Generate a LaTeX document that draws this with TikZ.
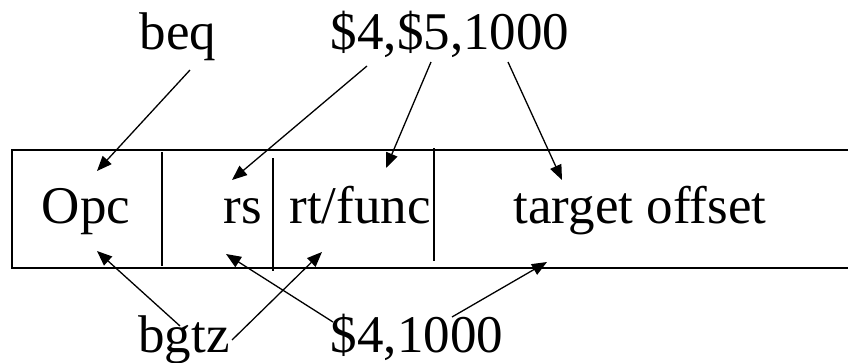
\documentclass[tikz,border=0pt]{standalone}
\usepackage{fontspec}
\setmainfont{Liberation Serif}
\usetikzlibrary{arrows.meta}
\begin{document}
\begin{tikzpicture}[x=1pt,y=-1pt,
  lbl/.style={anchor=base,inner sep=0pt,font=\fontsize{53}{60}\selectfont},
  arr/.style={line width=1.3pt,-{Triangle[length=15pt,width=12pt]}},
  boxline/.style={line width=1.6pt},
  divline/.style={line width=2.2pt}]
\useasboundingbox (0,0) rectangle (848,362);
\clip (0,0) rectangle (848,362);
% box
\draw[boxline] (860,150) -- (12,150) -- (12,268) -- (860,268);
\draw[divline] (162,152) -- (162,266);
\draw[divline] (273,158) -- (273,271);
\draw[divline] (434,148) -- (434,261);
% field labels
\node[lbl] (opc) at (86,223) {Opc};
\node[lbl] (rs) at (243,223) {rs};
\node[lbl] (rt) at (360,223) {rt/func};
\node[lbl] (tgt) at (640,223) {target offset};
% instruction labels
\node[lbl] (beq) at (178,49) {beq};
\node[lbl] (args1) at (450,49) {\$4,\$5,1000};
\node[lbl] (bgtz) at (184,352) {bgtz};
\node[lbl] (args2) at (417,352) {\$4,1000};
% arrow endpoints
\coordinate (beqS) at (190,70);
\coordinate (opcT) at (97,171);
\coordinate (a4S) at (367,66);
\coordinate (rsT) at (232,180);
\coordinate (a5S) at (431,62);
\coordinate (rtT) at (386,168);
\coordinate (a1000S) at (508,62);
\coordinate (tgtT) at (562,180);
\coordinate (bgS1) at (180,326);
\coordinate (opcB) at (97,251);
\coordinate (bgS2) at (232,340);
\coordinate (rtB) at (322,252);
\coordinate (b4S) at (333,322);
\coordinate (rsB) at (226,254);
\coordinate (b1000S) at (452,317);
\coordinate (tgtB) at (547,262);
\draw[arr] (beqS) -- (opcT);
\draw[arr] (a4S) -- (rsT);
\draw[arr] (a5S) -- (rtT);
\draw[arr] (a1000S) -- (tgtT);
\draw[arr] (bgS1) -- (opcB);
\draw[arr] (bgS2) -- (rtB);
\draw[arr] (b4S) -- (rsB);
\draw[arr] (b1000S) -- (tgtB);
\end{tikzpicture}
\end{document}
